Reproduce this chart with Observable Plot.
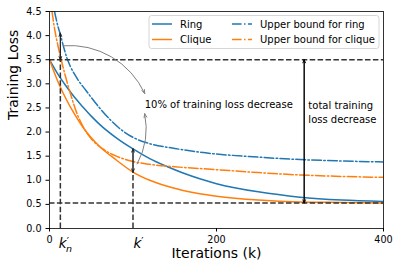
<!DOCTYPE html>
<html><head><meta charset="utf-8">
<script src="https://cdn.jsdelivr.net/npm/d3@7"></script>
<script src="https://cdn.jsdelivr.net/npm/@observablehq/plot@0.6"></script>
<style>body{margin:0;background:#fff}svg{font-family:"DejaVu Sans"}</style>
</head><body><div id="chart"></div>
<script>
// ---- data ----
const ringIter = [0,10,20,30,40,50,60,80,100,120,140,160,180,200,250,300,350,400];
const ringLoss = [3.5,3.2,2.95,2.72,2.52,2.33,2.16,1.88,1.65,1.45,1.29,1.15,1.03,0.93,0.76,0.65,0.59,0.56];
const cliqueIter = [0,10,20,30,40,50,60,80,100,120,140,160,180,200,250,300,350,400];
const cliqueLoss = [3.5,3.05,2.68,2.37,2.1,1.88,1.7,1.42,1.17,1.0,0.88,0.79,0.72,0.67,0.59,0.55,0.54,0.53];
const ringBoundIter = [6,10,13,17,21,25,30,35,42,49,60,73,85,100,120,150,181,250,300,350,400];
const ringBound = [4.5,4.2,4.02,3.76,3.53,3.36,3.2,3.06,2.9,2.74,2.5,2.25,2.06,1.89,1.76,1.66,1.58,1.48,1.43,1.4,1.38];
const cliqueBoundIter = [3,6,10,14,20,25,33,40,50,63,80,100,120,150,200,250,300,350,400];
const cliqueBound = [4.5,4.15,3.8,3.5,3.1,2.8,2.38,2.12,1.86,1.66,1.5,1.39,1.33,1.28,1.22,1.16,1.11,1.08,1.06];

const seriesNames = ["Ring", "Clique", "Upper bound for ring", "Upper bound for clique"];
const xTicks = [0, 200, 400];
const yTicks = [0,0.5,1,1.5,2,2.5,3,3.5,4,4.5];

// annotation values
const kn = 13, kPrime = 100, totalK = 305;
const startLoss = 3.5, lowLoss = 0.53;
const knTop = 4.05;              // ring upper bound at k_n'
const kPrimeLow = 1.17, kPrimeHigh = 1.65;
const noteText = "10% of training loss decrease";
const totalText = "total training\nloss decrease";
const noteArrows = [
  {x1: 16.5, y1: 3.79, x2: 114, y2: 2.80},
  {x1: 105, y1: 1.34, x2: 114, y2: 2.38}
];

const BLUE = "#1f77b4", ORANGE = "#ff7f0e";
const DASH = "5.5,2.4", DASHDOT = "9.6,2.4,1.5,2.4";
const toRows = (xs, ys) => xs.map((k, i) => ({k, v: ys[i]}));
const dbl = (x, a, b) => [{x1: x, y1: a, x2: x, y2: b}, {x1: x, y1: b, x2: x, y2: a}];

const plot = Plot.plot({
  width: 399, height: 270,
  marginLeft: 49, marginRight: 16, marginTop: 11, marginBottom: 42,
  style: {fontFamily: "DejaVu Sans", fontSize: "9.6px", background: "white", color: "black"},
  x: {domain: [0, 400]},
  y: {domain: [0, 4.5]},
  marks: [
    Plot.axisX({ticks: xTicks, tickSize: 3.5, tickPadding: 4.5, label: null}),
    Plot.axisY({ticks: yTicks, tickSize: 3.5, tickPadding: 4.5, tickFormat: d3.format(".1f"), label: null}),
    Plot.line(toRows(ringIter, ringLoss), {x: "k", y: "v", stroke: BLUE, strokeWidth: 1.5, curve: "monotone-x", clip: true}),
    Plot.line(toRows(cliqueIter, cliqueLoss), {x: "k", y: "v", stroke: ORANGE, strokeWidth: 1.5, curve: "monotone-x", clip: true}),
    Plot.line(toRows(ringBoundIter, ringBound), {x: "k", y: "v", stroke: BLUE, strokeWidth: 1.5, strokeDasharray: DASHDOT, curve: "monotone-x", clip: true}),
    Plot.line(toRows(cliqueBoundIter, cliqueBound), {x: "k", y: "v", stroke: ORANGE, strokeWidth: 1.5, strokeDasharray: DASHDOT, curve: "monotone-x", clip: true}),
    Plot.ruleY([startLoss, lowLoss], {x1: 0, x2: 400, stroke: "#333", strokeWidth: 1.5, strokeDasharray: DASH}),
    Plot.ruleX([{k: kn, top: startLoss}, {k: kPrime, top: kPrimeLow}], {x: "k", y1: 0, y2: "top", stroke: "#333", strokeWidth: 1.5, strokeDasharray: DASH}),
    Plot.arrow([...dbl(kn, startLoss, knTop), ...dbl(kPrime, kPrimeLow, kPrimeHigh)], {x1: "x1", y1: "y1", x2: "x2", y2: "y2", stroke: "#222", strokeWidth: 1, headLength: 5, headAngle: 45}),
    Plot.arrow(dbl(totalK, lowLoss, startLoss), {x1: "x1", y1: "y1", x2: "x2", y2: "y2", stroke: "black", strokeWidth: 1, headLength: 5, headAngle: 45}),
    Plot.arrow(noteArrows.slice(0, 1), {x1: "x1", y1: "y1", x2: "x2", y2: "y2", bend: 35, stroke: "gray", strokeWidth: 1, headLength: 6, headAngle: 40}),
    Plot.arrow(noteArrows.slice(1), {x1: "x1", y1: "y1", x2: "x2", y2: "y2", bend: -20, stroke: "gray", strokeWidth: 1, headLength: 6, headAngle: 40}),
    Plot.text([noteText], {x: 114, y: 2.56, textAnchor: "start", fontSize: 10, fill: "black"}),
    Plot.text([totalText], {x: 310, y: 2.42, textAnchor: "start", fontSize: 10, lineHeight: 1.35, fill: "black"}),
    Plot.text(["Training Loss"], {frameAnchor: "left", dx: -36, rotate: -90, fontSize: 14, fill: "black"}),
    Plot.text(["Iterations (k)"], {frameAnchor: "bottom", dy: 29.5, fontSize: 14, fill: "black"}),
    Plot.frame({stroke: "black", strokeWidth: 0.8})
  ]
});

const svg = d3.select(plot);
const X = plot.scale("x");

// k labels (math-style), each a single text element with tspans
function kLabel(x0, withSub) {
  const t = svg.append("text").attr("fill", "black").attr("text-anchor", "start")
    .attr("x", x0).attr("y", 248.3).attr("font-size", 13.5);
  t.append("tspan").attr("font-style", "italic").text("k");
  if (withSub) {
    t.append("tspan").attr("font-style", "italic").attr("font-size", 9.5).attr("dx", -0.8).attr("dy", 3.9).text("n");
    t.append("tspan").attr("font-size", 10).attr("dx", -5.2).attr("dy", -7.6).text("\u2032");
  } else {
    t.append("tspan").attr("font-size", 10).attr("dx", 0).attr("dy", -3.5).text("\u2032");
  }
}
kLabel(X.apply(kn) - 1, true);
kLabel(X.apply(kPrime) + 1, false);

// legend
const lg = svg.append("g").attr("text-anchor", "start");
lg.append("rect").attr("x", 149).attr("y", 15.5).attr("width", 230).attr("height", 33).attr("rx", 2.5)
  .attr("fill", "white").attr("fill-opacity", 0.8).attr("stroke", "#ccc").attr("stroke-width", 0.8);
const entries = [
  {name: seriesNames[0], color: BLUE, dash: null, x: 152, y: 24},
  {name: seriesNames[1], color: ORANGE, dash: null, x: 152, y: 39.5},
  {name: seriesNames[2], color: BLUE, dash: DASHDOT, x: 232, y: 24},
  {name: seriesNames[3], color: ORANGE, dash: DASHDOT, x: 232, y: 39.5}
];
for (const e of entries) {
  const ln = lg.append("line").attr("x1", e.x).attr("x2", e.x + 20).attr("y1", e.y).attr("y2", e.y)
    .attr("stroke", e.color).attr("stroke-width", 1.5);
  if (e.dash) ln.attr("stroke-dasharray", e.dash);
  lg.append("text").attr("x", e.x + 28).attr("y", e.y).attr("dy", "0.35em").attr("font-size", 10).attr("fill", "black").text(e.name);
}

document.getElementById("chart").append(plot);
</script>
</body></html>
